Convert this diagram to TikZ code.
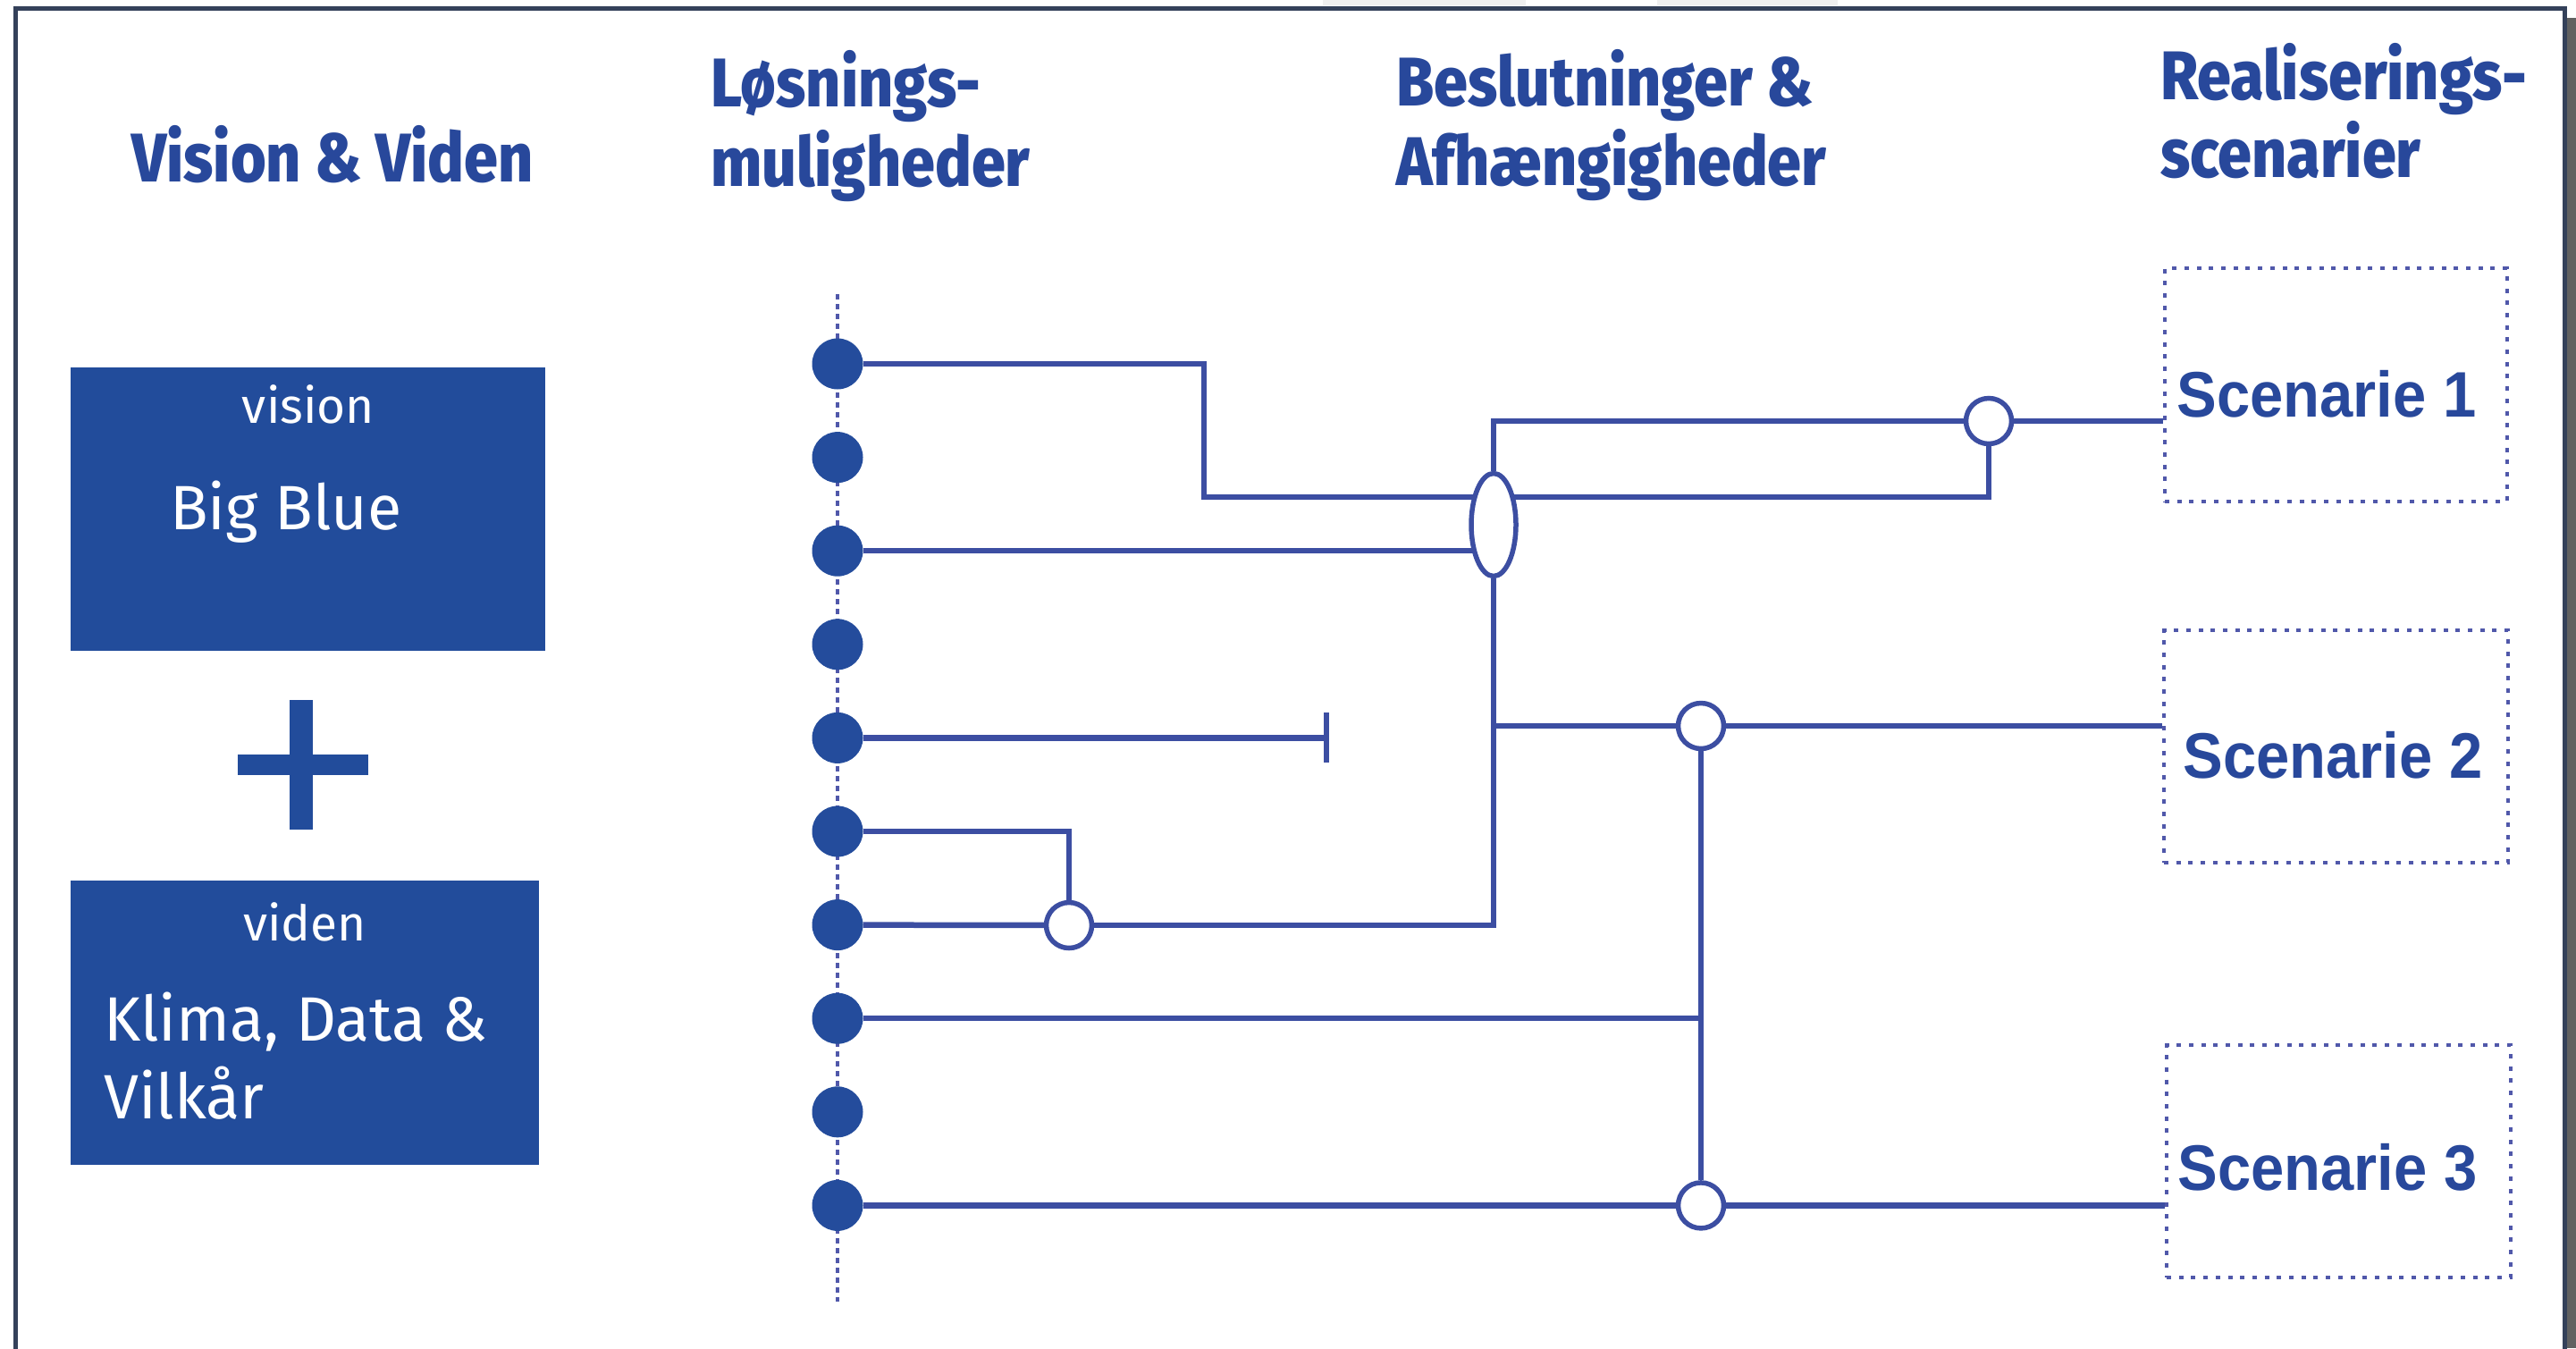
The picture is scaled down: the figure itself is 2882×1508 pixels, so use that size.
\documentclass[tikz,border=0pt]{standalone}
\usepackage{fontspec}
\newfontfamily\hdrfont{Fira Sans ExtraBold}[FakeStretch=0.885]
\newfontfamily\boxfont{Fira Sans}
\newfontfamily\scenfont{Liberation Sans}[FakeStretch=0.93]
\usetikzlibrary{shapes.geometric,arrows.meta,backgrounds}
\definecolor{boxblue}{RGB}{34,76,155}
\definecolor{hdrblue}{RGB}{40,72,155}
\definecolor{lineblue}{RGB}{60,78,162}
\definecolor{dotblue}{RGB}{36,76,156}
\definecolor{scenblue}{RGB}{80,88,170}
\definecolor{frame}{RGB}{52,65,90}
\tikzset{
  hdr/.style={font=\hdrfont\fontsize{77}{89}\selectfont, text=hdrblue, anchor=base west, inner sep=0pt},
  boxbig/.style={font=\boxfont\fontsize{70}{84}\selectfont, text=white, anchor=base west, inner sep=0pt},
  boxsmall/.style={font=\boxfont\fontsize{55}{66}\selectfont, text=white, anchor=base, inner sep=0pt},
  panel/.style={rectangle, fill=boxblue, draw=none, inner sep=0pt},
  soldot/.style={circle, fill=dotblue, draw=none, minimum size=57pt, inner sep=0pt},
  junc/.style={circle, draw=lineblue, fill=white, line width=5.5pt, minimum size=51pt, inner sep=0pt},
  gate/.style={ellipse, draw=lineblue, fill=white, line width=5.5pt, minimum width=50pt, minimum height=115pt, inner sep=0pt},
  scenbox/.style={rectangle, draw=scenblue, line width=4.5pt, dash pattern=on 5pt off 8.7pt, inner sep=0pt},
  scentxt/.style={font=\scenfont\bfseries\fontsize{72}{80}\selectfont, text=hdrblue, anchor=base, inner sep=0pt},
  conn/.style={draw=lineblue, line width=6.5pt},
  dashline/.style={draw=scenblue, line width=3.5pt, dash pattern=on 6pt off 5pt}
}
\begin{document}
\begin{tikzpicture}[x=1pt,y=-1pt]
\useasboundingbox (0,0) rectangle (2882,1508);
% frame and shadow
\fill[gray!12] (1480,0) rectangle (1707,6);
\fill[gray!12] (1854,0) rectangle (2056,6);
\fill[black!62] (2872,20) rectangle (2882,1508);
\draw[frame, line width=5pt] (17,1530) -- (17,9) -- (2869,9) -- (2869,1530);

% headers
\node[hdr] (h1) at (147,203) {Vision \& Viden};
\node[hdr] (h2a) at (795,119) {Løsnings-};
\node[hdr] (h2b) at (795,208) {muligheder};
\node[hdr] (h3a) at (1562,118) {Beslutninger \&};
\node[hdr] (h3b) at (1562,207) {Afhængigheder};
\node[hdr] (h4a) at (2417,111) {Realiserings-};
\node[hdr] (h4b) at (2417,198) {scenarier};

% left panels
\node[panel, minimum width=531pt, minimum height=317pt] (vision) at (344.5,569.5) {};
\node[boxsmall] (visiont) at (345,473) {vision};
\node[boxbig] (bigblue) at (190,592) {Big Blue};
\fill[boxblue] (266,844) rectangle (412,867);
\fill[boxblue] (324,783) rectangle (350,928);
\node[panel, minimum width=524pt, minimum height=318pt] (viden) at (341,1144) {};
\node[boxsmall] (vident) at (341,1052) {viden};
\node[boxbig] (klima) at (116,1164) {Klima, Data \&};
\node[boxbig] (vilkar) at (116,1251) {Vilkår};

% dots
\foreach \i/\y in {1/407,2/511.6,3/616.2,4/720.8,5/825.4,6/930,7/1034.6,8/1139.2,9/1243.8,10/1348.4}
  \node[soldot] (d\i) at (937,\y) {};
\coordinate (vt) at (937,329);
\coordinate (vb) at (937,1456);

% junctions
\node[gate] (E) at (1671,587) {};
\node[junc] (cA) at (2225,471) {};
\node[junc] (cB) at (1903,812) {};
\node[junc] (cC) at (1196,1035) {};
\node[junc] (cD) at (1903,1348.4) {};

% scenarios
\node[scenbox, minimum width=383pt, minimum height=261pt] (s1) at (2613.5,430.5) {};
\node[scenbox, minimum width=385pt, minimum height=260pt] (s2) at (2613.5,835) {};
\node[scenbox, minimum width=385pt, minimum height=260pt] (s3) at (2616.5,1299) {};
\node[scentxt] (t1) at (2603,466) {Scenarie 1};
\node[scentxt] (t2) at (2610,870) {Scenarie 2};
\node[scentxt] (t3) at (2604,1331) {Scenarie 3};

\coordinate (k1) at (1347,556);
\coordinate (tend) at (1487,825.4);

\begin{pgfonlayer}{background}
\draw[dashline] (vt) -- (vb);
\draw[conn] (d1) -| (k1) -| (cA);
\draw[conn] (d3) -- (d3 -| E);
\draw[conn] (E) |- (cA);
\draw[conn] (cA) -- (cA -| s1.west);
\draw[conn] (E) |- (cC);
\draw[conn] (E |- cB) -- (cB);
\draw[conn] (cB) -- (cB -| s2.west);
\draw[conn] (cB) -- (cD);
\draw[conn] (d8) -- (d8 -| cB);
\draw[conn] (d10) -- (cD);
\draw[conn] (cD) -- (cD -| s3.west);
\draw[conn, -{Bar[width=56pt]}] (d5) -- (tend);
\draw[conn] (d6) -| (cC);
\draw[conn] (d7) -- (cC);
\end{pgfonlayer}
\end{tikzpicture}
\end{document}
